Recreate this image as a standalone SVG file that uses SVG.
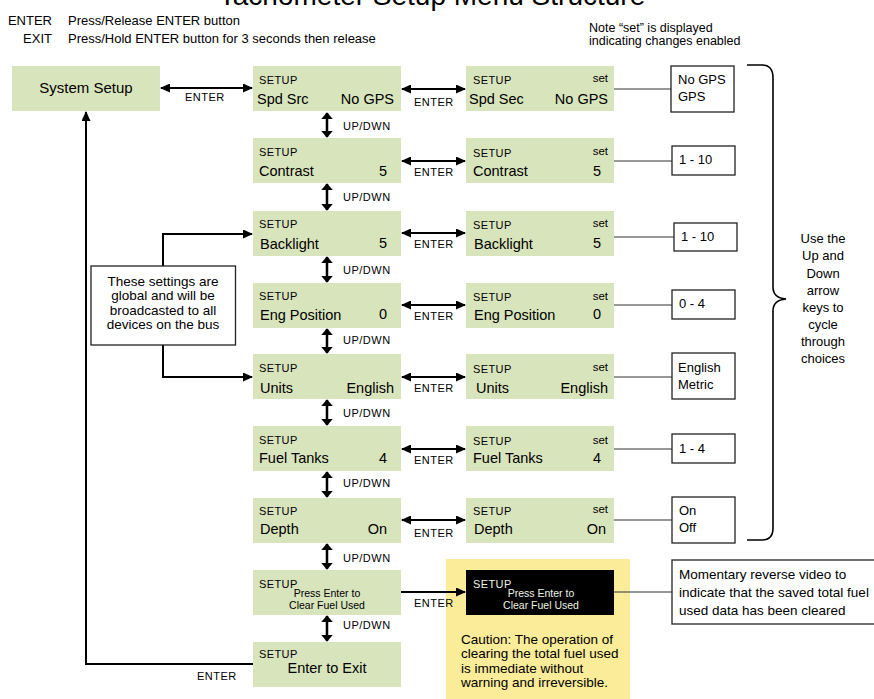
<svg xmlns="http://www.w3.org/2000/svg" width="874" height="699" viewBox="0 0 874 699">
<defs>
<style>
text{font-family:"Liberation Sans",Arial,sans-serif;fill:#000}
.scr{fill:#d8e4bc}
.hd{font-size:11px;letter-spacing:0.4px}
.mn{font-size:14.5px}
.st{font-size:11.5px}
.lb{font-size:11px;letter-spacing:0.5px}
.sm{font-size:13px}
.gn{font-size:13.5px;text-anchor:middle}
.vb{fill:#fff;stroke:#222;stroke-width:1.3}
.ln{fill:none;stroke:#000;stroke-width:2}
.th{fill:none;stroke:#333;stroke-width:1.2}
.ud{fill:none;stroke:#000;stroke-width:2.5}
.mid{text-anchor:middle}
.end{text-anchor:end}
</style>
<marker id="ah" viewBox="0 0 10 10" refX="9" refY="5" markerWidth="10" markerHeight="9" markerUnits="userSpaceOnUse" preserveAspectRatio="none" orient="auto-start-reverse"><path d="M0,0 L10,5 L0,10 z" fill="#000"/></marker>
<marker id="as" viewBox="0 0 10 10" refX="9" refY="5" markerWidth="7" markerHeight="12" markerUnits="userSpaceOnUse" preserveAspectRatio="none" orient="auto-start-reverse"><path d="M0,0 L10,5 L0,10 z" fill="#000"/></marker>
</defs>
<rect width="874" height="699" fill="#fff"/>

<g id="title">
<text x="432" y="5" class="mid" style="font-size:28px">Tachometer Setup Menu Structure</text>
</g>
<g id="legend">
<text x="52" y="25" class="end" style="font-size:13px">ENTER</text>
<text x="68" y="25" style="font-size:13px">Press/Release ENTER button</text>
<text x="52" y="43" class="end" style="font-size:13px">EXIT</text>
<text x="68" y="43" style="font-size:13px">Press/Hold ENTER button for 3 seconds then release</text>
</g>
<g id="note">
<text x="589" y="32" style="font-size:12.5px">Note “set” is displayed</text>
<text x="589" y="45" style="font-size:12.5px">indicating changes enabled</text>
</g>

<g id="caution">
<rect x="446" y="559" width="184" height="140" fill="#faec98"/>
<text x="461" y="644" style="font-size:13.5px">Caution: The operation of</text>
<text x="461" y="658" style="font-size:13.5px">clearing the total fuel used</text>
<text x="461" y="673" style="font-size:13.5px">is immediate without</text>
<text x="461" y="687" style="font-size:13.5px">warning and irreversible.</text>
</g>

<g id="connectors">
<line x1="161" y1="88" x2="252" y2="88" class="ln" marker-start="url(#ah)" marker-end="url(#ah)"/>
<line x1="402" y1="89" x2="465" y2="89" class="ln" marker-start="url(#ah)" marker-end="url(#ah)"/>
<line x1="402" y1="161" x2="465" y2="161" class="ln" marker-start="url(#ah)" marker-end="url(#ah)"/>
<line x1="402" y1="233" x2="465" y2="233" class="ln" marker-start="url(#ah)" marker-end="url(#ah)"/>
<line x1="402" y1="305" x2="465" y2="305" class="ln" marker-start="url(#ah)" marker-end="url(#ah)"/>
<line x1="402" y1="377" x2="465" y2="377" class="ln" marker-start="url(#ah)" marker-end="url(#ah)"/>
<line x1="402" y1="449" x2="465" y2="449" class="ln" marker-start="url(#ah)" marker-end="url(#ah)"/>
<line x1="402" y1="520" x2="465" y2="520" class="ln" marker-start="url(#ah)" marker-end="url(#ah)"/>
<line x1="401" y1="592" x2="465" y2="592" class="ln" marker-end="url(#ah)"/>
<polyline points="163,266 163,234 252,234" class="ln" marker-end="url(#ah)"/>
<polyline points="163,345 163,377 252,377" class="ln" marker-end="url(#ah)"/>
<polyline points="253,664 86,664 86,112" class="ln" marker-end="url(#ah)"/>
<line x1="327" y1="113" x2="327" y2="137" class="ud" marker-start="url(#as)" marker-end="url(#as)"/>
<line x1="327" y1="184" x2="327" y2="210" class="ud" marker-start="url(#as)" marker-end="url(#as)"/>
<line x1="327" y1="257" x2="327" y2="282" class="ud" marker-start="url(#as)" marker-end="url(#as)"/>
<line x1="327" y1="329" x2="327" y2="353" class="ud" marker-start="url(#as)" marker-end="url(#as)"/>
<line x1="327" y1="400" x2="327" y2="425" class="ud" marker-start="url(#as)" marker-end="url(#as)"/>
<line x1="327" y1="472" x2="327" y2="497" class="ud" marker-start="url(#as)" marker-end="url(#as)"/>
<line x1="327" y1="544" x2="327" y2="569" class="ud" marker-start="url(#as)" marker-end="url(#as)"/>
<line x1="327" y1="616" x2="327" y2="641" class="ud" marker-start="url(#as)" marker-end="url(#as)"/>
<line x1="614" y1="89" x2="671" y2="89" class="th"/>
<line x1="614" y1="161" x2="672" y2="161" class="th"/>
<line x1="614" y1="237" x2="674" y2="237" class="th"/>
<line x1="614" y1="305" x2="672" y2="305" class="th"/>
<line x1="614" y1="377" x2="672" y2="377" class="th"/>
<line x1="614" y1="449" x2="672" y2="449" class="th"/>
<line x1="614" y1="520" x2="672" y2="520" class="th"/>
<line x1="614" y1="592" x2="672" y2="592" class="th"/>
<path d="M747,65 H762 Q773,65 773,78 V287 Q773,298 786,299 Q773,300 773,311 V528 Q773,540 762,540 H747" fill="none" stroke="#000" stroke-width="1.6"/>
<text x="185" y="101" class="lb">ENTER</text>
<text x="414" y="106" class="lb">ENTER</text>
<text x="414" y="176" class="lb">ENTER</text>
<text x="414" y="248" class="lb">ENTER</text>
<text x="414" y="320" class="lb">ENTER</text>
<text x="414" y="392" class="lb">ENTER</text>
<text x="414" y="464" class="lb">ENTER</text>
<text x="414" y="537" class="lb">ENTER</text>
<text x="414" y="607" class="lb">ENTER</text>
<text x="197" y="680" class="lb">ENTER</text>
<text x="343" y="130" class="lb">UP/DWN</text>
<text x="343" y="201" class="lb">UP/DWN</text>
<text x="343" y="274" class="lb">UP/DWN</text>
<text x="343" y="344" class="lb">UP/DWN</text>
<text x="343" y="417" class="lb">UP/DWN</text>
<text x="343" y="487" class="lb">UP/DWN</text>
<text x="343" y="562" class="lb">UP/DWN</text>
<text x="343" y="629" class="lb">UP/DWN</text>
</g>

<g id="system-setup">
<rect x="12" y="66" width="148" height="45" class="scr"/>
<text x="86" y="93" class="mid" style="font-size:15px">System Setup</text>
</g>

<g id="global-note">
<rect x="91" y="266" width="144.5" height="79" class="vb"/>
<text x="163" y="285.5" class="gn">These settings are</text>
<text x="163" y="300" class="gn">global and will be</text>
<text x="163" y="314.5" class="gn">broadcasted to all</text>
<text x="163" y="329" class="gn">devices on the bus</text>
</g>

<g id="spd-src">
<rect x="253" y="66" width="148" height="45" class="scr"/>
<text x="259" y="84" class="hd">SETUP</text>
<text x="257" y="104" class="mn">Spd Src</text>
<text x="394" y="104" class="mn end">No GPS</text>
</g>
<g id="spd-sec-set">
<rect x="466" y="66" width="148" height="45" class="scr"/>
<text x="473" y="84" class="hd">SETUP</text>
<text x="608" y="82" class="st end">set</text>
<text x="469" y="104" class="mn">Spd Sec</text>
<text x="608" y="104" class="mn end">No GPS</text>
</g>
<g id="spd-choices">
<rect x="671" y="66" width="63" height="46" class="vb"/>
<text x="678" y="84" class="sm">No GPS</text>
<text x="678" y="101" class="sm">GPS</text>
</g>

<g id="contrast">
<rect x="253" y="138" width="148" height="45" class="scr"/>
<text x="259" y="156" class="hd">SETUP</text>
<text x="259" y="176" class="mn">Contrast</text>
<text x="387" y="176" class="mn end">5</text>
</g>
<g id="contrast-set">
<rect x="466" y="138" width="148" height="45" class="scr"/>
<text x="473" y="157" class="hd">SETUP</text>
<text x="608" y="155" class="st end">set</text>
<text x="473" y="176" class="mn">Contrast</text>
<text x="601" y="176" class="mn end">5</text>
</g>
<g id="contrast-choices">
<rect x="672" y="146" width="63" height="29" class="vb"/>
<text x="679" y="164" class="sm">1 - 10</text>
</g>

<g id="backlight">
<rect x="253" y="211" width="148" height="45" class="scr"/>
<text x="259" y="228" class="hd">SETUP</text>
<text x="260" y="249" class="mn">Backlight</text>
<text x="387" y="248" class="mn end">5</text>
</g>
<g id="backlight-set">
<rect x="466" y="211" width="148" height="45" class="scr"/>
<text x="473" y="229" class="hd">SETUP</text>
<text x="608" y="227" class="st end">set</text>
<text x="474" y="249" class="mn">Backlight</text>
<text x="601" y="248" class="mn end">5</text>
</g>
<g id="backlight-choices">
<rect x="674" y="223" width="63" height="28" class="vb"/>
<text x="681" y="241" class="sm">1 - 10</text>
</g>

<g id="eng-position">
<rect x="253" y="283" width="148" height="45" class="scr"/>
<text x="259" y="300" class="hd">SETUP</text>
<text x="260" y="320" class="mn">Eng Position</text>
<text x="387" y="319" class="mn end">0</text>
</g>
<g id="eng-position-set">
<rect x="466" y="283" width="148" height="45" class="scr"/>
<text x="473" y="301" class="hd">SETUP</text>
<text x="608" y="300" class="st end">set</text>
<text x="474" y="320" class="mn">Eng Position</text>
<text x="601" y="319" class="mn end">0</text>
</g>
<g id="eng-position-choices">
<rect x="672" y="290" width="63" height="29" class="vb"/>
<text x="679" y="308" class="sm">0 - 4</text>
</g>

<g id="units">
<rect x="253" y="354" width="148" height="45" class="scr"/>
<text x="259" y="372" class="hd">SETUP</text>
<text x="260" y="393" class="mn">Units</text>
<text x="394" y="393" class="mn end">English</text>
</g>
<g id="units-set">
<rect x="466" y="354" width="148" height="45" class="scr"/>
<text x="473" y="373" class="hd">SETUP</text>
<text x="608" y="371" class="st end">set</text>
<text x="476" y="393" class="mn">Units</text>
<text x="608" y="393" class="mn end">English</text>
</g>
<g id="units-choices">
<rect x="672" y="353" width="63" height="46" class="vb"/>
<text x="678" y="372" class="sm">English</text>
<text x="678" y="389" class="sm">Metric</text>
</g>

<g id="fuel-tanks">
<rect x="253" y="426" width="148" height="45" class="scr"/>
<text x="259" y="444" class="hd">SETUP</text>
<text x="259" y="463" class="mn">Fuel Tanks</text>
<text x="387" y="463" class="mn end">4</text>
</g>
<g id="fuel-tanks-set">
<rect x="466" y="426" width="148" height="45" class="scr"/>
<text x="473" y="445" class="hd">SETUP</text>
<text x="608" y="444" class="st end">set</text>
<text x="473" y="463" class="mn">Fuel Tanks</text>
<text x="601" y="463" class="mn end">4</text>
</g>
<g id="fuel-tanks-choices">
<rect x="672" y="434" width="63" height="29" class="vb"/>
<text x="679" y="453" class="sm">1 - 4</text>
</g>

<g id="depth">
<rect x="253" y="498" width="148" height="45" class="scr"/>
<text x="259" y="515" class="hd">SETUP</text>
<text x="260" y="534" class="mn">Depth</text>
<text x="387" y="534" class="mn end">On</text>
</g>
<g id="depth-set">
<rect x="466" y="498" width="148" height="45" class="scr"/>
<text x="473" y="515" class="hd">SETUP</text>
<text x="608" y="513" class="st end">set</text>
<text x="474" y="534" class="mn">Depth</text>
<text x="606" y="534" class="mn end">On</text>
</g>
<g id="depth-choices">
<rect x="672" y="497" width="63" height="46" class="vb"/>
<text x="679" y="515" class="sm">On</text>
<text x="679" y="532" class="sm">Off</text>
</g>

<g id="clear-fuel">
<rect x="253" y="570" width="148" height="45" class="scr"/>
<text x="259" y="588" class="hd">SETUP</text>
<text x="327" y="597" class="mid" style="font-size:10.5px">Press Enter to</text>
<text x="327" y="609" class="mid" style="font-size:10.5px">Clear Fuel Used</text>
</g>
<g id="clear-fuel-reverse">
<rect x="466" y="570" width="148" height="45" fill="#000"/>
<text x="473" y="588" class="hd" style="fill:#eef3e2">SETUP</text>
<text x="541" y="597" class="mid" style="font-size:10.5px;fill:#eef3e2">Press Enter to</text>
<text x="541" y="609" class="mid" style="font-size:10.5px;fill:#eef3e2">Clear Fuel Used</text>
</g>
<g id="clear-note">
<rect x="672" y="560" width="210" height="64" class="vb"/>
<text x="679" y="579" style="font-size:13.5px">Momentary reverse video to</text>
<text x="679" y="597" style="font-size:13.5px">indicate that the saved total fuel</text>
<text x="679" y="615" style="font-size:13.5px">used data has been cleared</text>
</g>

<g id="exit">
<rect x="253" y="642" width="148" height="45" class="scr"/>
<text x="259" y="658" class="hd">SETUP</text>
<text x="327" y="673" class="mid mn">Enter to Exit</text>
</g>

<g id="brace-note">
<text x="823" y="243" class="mid sm">Use the</text>
<text x="823" y="260" class="mid sm">Up and</text>
<text x="823" y="278" class="mid sm">Down</text>
<text x="823" y="295" class="mid sm">arrow</text>
<text x="823" y="312" class="mid sm">keys to</text>
<text x="823" y="329" class="mid sm">cycle</text>
<text x="823" y="346" class="mid sm">through</text>
<text x="823" y="363" class="mid sm">choices</text>
</g>
</svg>
